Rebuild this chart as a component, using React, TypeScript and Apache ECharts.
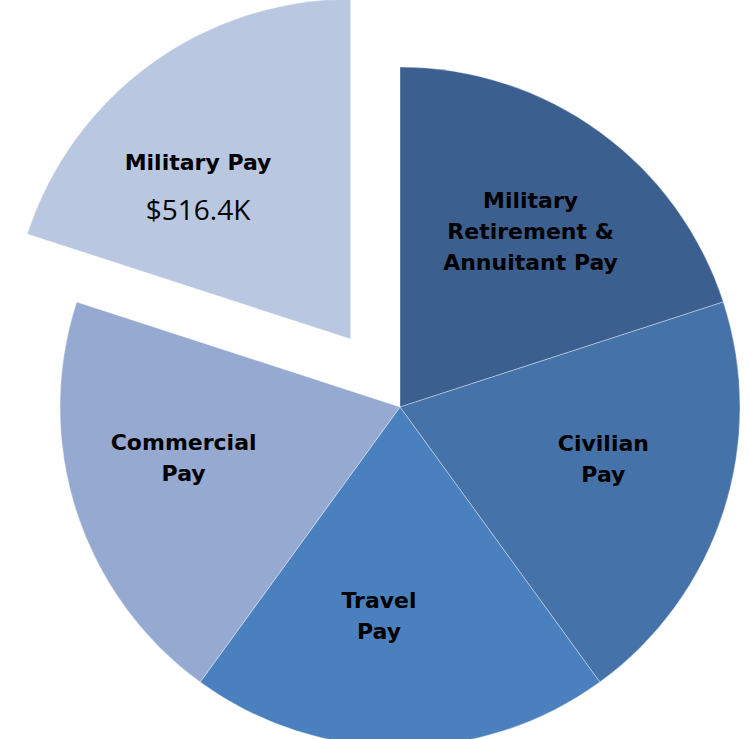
import React, { useEffect, useRef } from "react";
import * as echarts from "echarts";

const CATEGORIES = [
  "Military Retirement & Annuitant Pay",
  "Civilian Pay",
  "Travel Pay",
  "Commercial Pay",
  "Military Pay",
];
const LABEL_TEXT = [
  "Military\nRetirement &\nAnnuitant Pay",
  "Civilian\nPay",
  "Travel\nPay",
  "Commercial\nPay",
  "Military Pay",
];
const VALUES = [516.4, 516.4, 516.4, 516.4, 516.4];
const COLORS = ["#3b5f8f", "#4572a8", "#4b80be", "#95a9d1", "#bac7e1"];
const EXPLODED = "Military Pay";
const LABEL_OFFSETS = [
  [3, 0],
  [-3, -15],
  [-21, -8],
  [-10, -16],
  [-25, 30],
];

export default function App() {
  const ref = useRef<HTMLDivElement>(null);
  useEffect(() => {
    if (!ref.current) return;
    const chart = echarts.init(ref.current, null, { renderer: "svg" });
    const center = [400, 407];
    const R = 340;
    const offset = 84;
    chart.setOption({
      animation: false,
      backgroundColor: "#ffffff",
      series: [
        {
          type: "pie",
          center,
          radius: [0, R],
          startAngle: 90,
          clockwise: true,
          selectedMode: "single",
          selectedOffset: offset,
          silent: true,
          label: { show: false },
          labelLine: { show: false },
          itemStyle: { borderColor: "rgba(255,255,255,0.35)", borderWidth: 1 },
          emphasis: { disabled: true },
          data: CATEGORIES.map((c, i) => ({
            name: c,
            value: VALUES[i],
            selected: c === EXPLODED,
            itemStyle: { color: COLORS[i] },
          })),
        },
        {
          type: "pie",
          center,
          radius: [0, 428],
          startAngle: 90,
          clockwise: true,
          selectedMode: "single",
          selectedOffset: offset,
          silent: true,
          avoidLabelOverlap: false,
          labelLine: { show: false },
          itemStyle: { color: "rgba(0,0,0,0)" },
          emphasis: { disabled: true },
          label: {
            show: true,
            position: "inside",
            color: "#000",
            fontFamily: "DejaVu Sans",
            fontWeight: "bold",
            fontSize: 22,
            lineHeight: 31,
            align: "center",
            formatter: (p: any) =>
              p.name === EXPLODED
                ? `${LABEL_TEXT[p.dataIndex]}\n{v|$${VALUES[p.dataIndex].toFixed(1)}K}`
                : LABEL_TEXT[p.dataIndex],
            rich: {
              v: {
                fontFamily: "Open Sans",
                fontWeight: "normal",
                fontSize: 28,
                lineHeight: 61,
                color: "#000",
              },
            },
          },
          data: CATEGORIES.map((c, i) => ({
            name: c,
            value: VALUES[i],
            selected: c === EXPLODED,
            label: { offset: LABEL_OFFSETS[i] },
            select: { label: { offset: LABEL_OFFSETS[i] } },
          })),
        },
      ],
    });
    return () => chart.dispose();
  }, []);
  return (
    <div
      ref={ref}
      style={{ position: "absolute", left: 0, top: 0, width: 750, height: 739 }}
    />
  );
}
